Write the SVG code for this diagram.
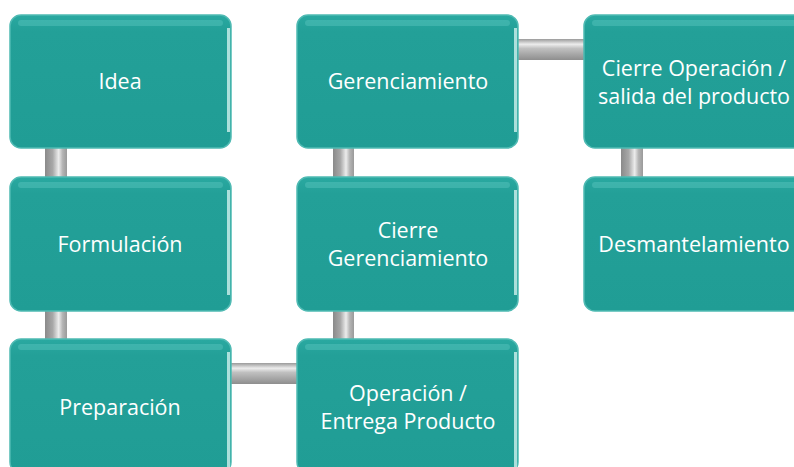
<svg xmlns="http://www.w3.org/2000/svg" width="794" height="467" viewBox="0 0 794 467">
<defs>
<linearGradient id="pv" x1="0" y1="0" x2="1" y2="0">
<stop offset="0" stop-color="#8a8a8a"/>
<stop offset="0.35" stop-color="#a8a8a8"/>
<stop offset="0.62" stop-color="#ececec"/>
<stop offset="0.8" stop-color="#b4b4b4"/>
<stop offset="1" stop-color="#9a9a9a"/>
</linearGradient>
<linearGradient id="ph" x1="0" y1="0" x2="0" y2="1">
<stop offset="0" stop-color="#9a9a9a"/>
<stop offset="0.25" stop-color="#ececec"/>
<stop offset="0.45" stop-color="#c0c0c0"/>
<stop offset="1" stop-color="#8e8e8e"/>
</linearGradient>
<linearGradient id="bx" x1="0" y1="0" x2="0" y2="1">
<stop offset="0" stop-color="#2aa9a1"/>
<stop offset="0.12" stop-color="#23a098"/>
<stop offset="1" stop-color="#209d95"/>
</linearGradient>
<style>
.box{fill:url(#bx);stroke:#4fbab3;stroke-width:1.5}
.hl{fill:#5cc6be;opacity:0.45}
.edge{fill:#c4ebe8;opacity:0.85}
.lbl{font-family:"Open Sans","Noto Sans","DejaVu Sans",sans-serif;font-size:21.5px;fill:#ffffff;text-anchor:middle}
</style>
</defs>
<g id="connectors">
<rect x="45" y="140" width="22" height="45" fill="url(#pv)"/>
<rect x="45" y="302" width="22" height="45" fill="url(#pv)"/>
<rect x="333" y="140" width="21" height="45" fill="url(#pv)"/>
<rect x="333" y="302" width="21" height="45" fill="url(#pv)"/>
<rect x="621" y="140" width="22" height="45" fill="url(#pv)"/>
<rect x="224" y="363" width="80" height="21" fill="url(#ph)"/>
<rect x="511" y="39" width="80" height="21" fill="url(#ph)"/>
</g>
<g id="n-idea">
<rect class="box" x="10" y="15" width="221" height="133" rx="11"/>
<rect class="hl" x="18" y="20" width="205" height="6" rx="3"/>
<rect class="edge" x="227" y="28" width="3" height="104"/>
<text class="lbl" x="120" y="89">Idea</text>
</g>
<g id="n-formulacion">
<rect class="box" x="10" y="177" width="221" height="134" rx="11"/>
<rect class="hl" x="18" y="182" width="205" height="6" rx="3"/>
<rect class="edge" x="227" y="190" width="3" height="105"/>
<text class="lbl" x="120" y="252">Formulación</text>
</g>
<g id="n-preparacion">
<rect class="box" x="10" y="339" width="221" height="134" rx="11"/>
<rect class="hl" x="18" y="344" width="205" height="6" rx="3"/>
<rect class="edge" x="227" y="352" width="3" height="115"/>
<text class="lbl" x="120" y="415">Preparación</text>
</g>
<g id="n-gerenciamiento">
<rect class="box" x="297" y="15" width="221" height="133" rx="11"/>
<rect class="hl" x="305" y="20" width="205" height="6" rx="3"/>
<rect class="edge" x="514" y="28" width="3" height="104"/>
<text class="lbl" x="408" y="89">Gerenciamiento</text>
</g>
<g id="n-cierre-gerenciamiento">
<rect class="box" x="297" y="177" width="221" height="134" rx="11"/>
<rect class="hl" x="305" y="182" width="205" height="6" rx="3"/>
<rect class="edge" x="514" y="190" width="3" height="105"/>
<text class="lbl" x="408" y="238">Cierre</text>
<text class="lbl" x="408" y="266">Gerenciamiento</text>
</g>
<g id="n-operacion">
<rect class="box" x="297" y="339" width="221" height="134" rx="11"/>
<rect class="hl" x="305" y="344" width="205" height="6" rx="3"/>
<rect class="edge" x="514" y="352" width="3" height="115"/>
<text class="lbl" x="408" y="401">Operación /</text>
<text class="lbl" x="408" y="429">Entrega Producto</text>
</g>
<g id="n-cierre-operacion">
<rect class="box" x="584" y="15" width="221" height="133" rx="11"/>
<rect class="hl" x="592" y="20" width="205" height="6" rx="3"/>
<text class="lbl" x="694" y="76">Cierre Operación /</text>
<text class="lbl" x="694" y="104">salida del producto</text>
</g>
<g id="n-desmantelamiento">
<rect class="box" x="584" y="177" width="221" height="134" rx="11"/>
<rect class="hl" x="592" y="182" width="205" height="6" rx="3"/>
<text class="lbl" x="694" y="252">Desmantelamiento</text>
</g>
</svg>
